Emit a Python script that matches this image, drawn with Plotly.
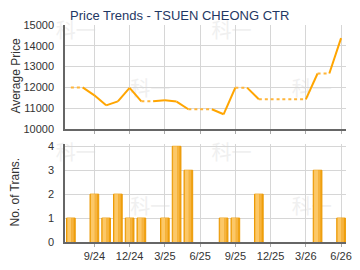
import plotly.graph_objects as go

months = ["7/24", "8/24", "9/24", "10/24", "11/24", "12/24", "1/25", "2/25", "3/25", "4/25",
          "5/25", "6/25", "7/25", "8/25", "9/25", "10/25", "11/25", "12/25", "1/26", "2/26",
          "3/26", "4/26", "5/26", "6/26"]
# average price per month (None = no transaction that month)
avg_price = [12000, None, 11620, 11140, 11330, 11980, 11330, None, 11380, 11320,
             10950, None, None, 10710, 11990, None, 11430, None, None, None,
             None, 12670, None, 14370]
transactions = [1, 0, 2, 1, 2, 1, 1, 0, 1, 4, 3, 0, 0, 1, 1, 0, 2, 0, 0, 0, 0, 3, 0, 1]
tick_labels = ["9/24", "12/24", "3/25", "6/25", "9/25", "12/25", "3/26", "6/26"]

# carry forward last price for months with no data
filled = []
last = None
for p in avg_price:
    if p is not None:
        last = p
    filled.append(last)

# split into solid and dotted segments (dotted when next month has no data)
sx, sy, dx, dy = [], [], [], []
for i in range(len(months) - 1):
    seg_x = [months[i], months[i + 1]]
    seg_y = [filled[i], filled[i + 1]]
    if avg_price[i + 1] is None:
        dx += seg_x + [None]
        dy += seg_y + [None]
    else:
        sx += seg_x + [None]
        sy += seg_y + [None]

bar_vals = [t if t else None for t in transactions]

fig = go.Figure()
fig.add_trace(go.Scatter(x=sx, y=sy, mode="lines", line=dict(color="#FFA500", width=2),
                         xaxis="x", yaxis="y", hoverinfo="skip", connectgaps=False))
fig.add_trace(go.Scatter(x=dx, y=dy, mode="lines", line=dict(color="#FFB53A", width=2, dash="dot"),
                         xaxis="x", yaxis="y", hoverinfo="skip", connectgaps=False))

# bars with a simple shaded look (dark base, light left band, mid band)
fig.add_trace(go.Bar(x=months, y=bar_vals, width=0.74, offset=-0.37,
                     marker=dict(color="#EFA00E", line=dict(color="#EC9A06", width=1)),
                     xaxis="x2", yaxis="y2", hoverinfo="skip"))
fig.add_trace(go.Bar(x=months, y=bar_vals, width=0.34, offset=-0.30,
                     marker=dict(color="#FCC868", line=dict(width=0)),
                     xaxis="x2", yaxis="y2", hoverinfo="skip"))
fig.add_trace(go.Bar(x=months, y=bar_vals, width=0.2, offset=0.04,
                     marker=dict(color="#F6B440", line=dict(width=0)),
                     xaxis="x2", yaxis="y2", hoverinfo="skip"))

grid = "#D6D6D6"
axis_line = "#666666"
font_family = "Arial, Liberation Sans, sans-serif"
tick_font = dict(family=font_family, size=11, color="#333333")

common_x = dict(type="category", categoryorder="array", categoryarray=months,
                range=[-0.5, 23.42], tickvals=tick_labels, showgrid=True, gridcolor=grid,
                showline=True, linecolor=axis_line, linewidth=1.5, ticks="outside",
                ticklen=3, tickcolor="#AAAAAA", tickfont=tick_font, zeroline=False)

common_y = dict(showgrid=True, gridcolor=grid, showline=True, linecolor=axis_line, linewidth=1.5,
                tickfont=tick_font, ticks="outside", ticklen=7, tickcolor="rgba(0,0,0,0)",
                zeroline=False)

fig.update_layout(
    width=360, height=270,
    margin=dict(l=65, r=8, t=25, b=26),
    paper_bgcolor="white", plot_bgcolor="white",
    showlegend=False, barmode="overlay",
    xaxis=dict(common_x, domain=[0, 1], anchor="y", showticklabels=False),
    yaxis=dict(common_y, domain=[0.5205, 1], range=[10000, 15000],
               tickvals=[10000, 11000, 12000, 13000, 14000, 15000], tickformat="d"),
    xaxis2=dict(common_x, domain=[0, 1], anchor="y2"),
    yaxis2=dict(common_y, domain=[0, 0.452], range=[0, 4.1], tickvals=[0, 1, 2, 3, 4]),
    title=dict(text="Price Trends - TSUEN CHEONG CTR", x=70 / 360, xanchor="left", y=1 - 15 / 270, yanchor="middle",
               font=dict(family=font_family, size=13, color="#1F3864")),
)

# axis titles placed as rotated annotations
for text, py in [("Average Price", 77), ("No. of Trans.", 194)]:
    fig.add_annotation(text=text, textangle=-90, x=(14 - 65) / 287, y=(244 - py) / 219,
                       xref="paper", yref="paper", showarrow=False, xanchor="center", yanchor="middle",
                       font=dict(family=font_family, size=12, color="#333333"))

# faint watermark text drawn beneath the data
wm = [(76, 33), (235, 33), (152, 91), (317, 91), (76, 156), (235, 156), (152, 210), (317, 210)]
for px, py in wm:
    cx, cy = (px - 65) / 287, (244 - py) / 219
    fig.add_shape(type="rect", xref="paper", yref="paper", x0=cx - 0.08, x1=cx + 0.08,
                  y0=cy - 0.05, y1=cy + 0.05, layer="below", line=dict(width=0),
                  fillcolor="rgba(0,0,0,0)",
                  label=dict(text="科一", textposition="middle center",
                             font=dict(family="Noto Sans CJK SC", size=20, color="#F0F0F0")))

fig.write_html("out.html")
